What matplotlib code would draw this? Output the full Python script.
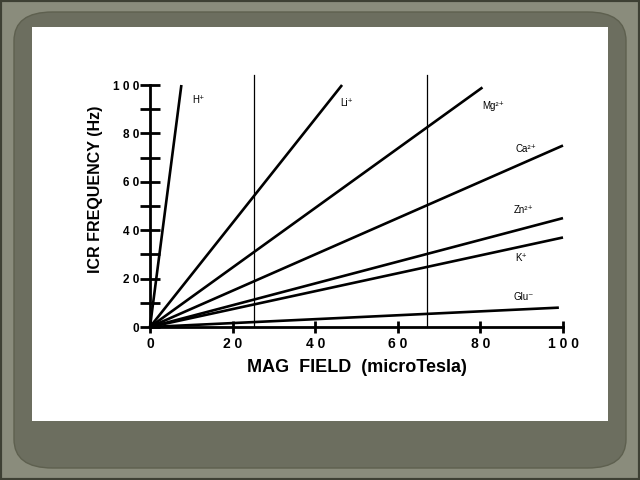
import matplotlib.pyplot as plt
from matplotlib.patches import FancyBboxPatch, Rectangle

# ion lines, all from the origin to the end point
ions = ['H⁺', 'Li⁺', 'Mg²⁺', 'Ca²⁺', 'Zn²⁺', 'K⁺', 'Glu⁻']
end_x = [7.6, 46.5, 80.5, 100, 100, 100, 99]
end_y = [100, 100, 99, 75, 45, 37, 8]
label_x = [10.2, 46, 80.5, 88.5, 88, 88.5, 88]
label_y = [94, 92.5, 91.5, 73.5, 48.5, 28.5, 12.5]

# the two vertical marker lines
vlines_x = [25.3, 67]

x_ticks = [0, 20, 40, 60, 80, 100]
x_ticklabels = ['0', '2 0', '4 0', '6 0', '8 0', '1 0 0']
y_ticks = [0, 10, 20, 30, 40, 50, 60, 70, 80, 90, 100]
y_ticklabels = ['0', '', '2 0', '', '4 0', '', '6 0', '', '8 0', '', '1 0 0']

plt.rcParams['font.family'] = ['Liberation Sans', 'DejaVu Sans']

W, H = 640, 480
fig = plt.figure(figsize=(6.4, 4.8), dpi=100, facecolor='#8a8c7c')

# slide frame, kept behind the axes
fig.patches.append(Rectangle((0, 0), 1, 1, transform=fig.transFigure,
                             fill=False, edgecolor='#3e4034', linewidth=3, zorder=-10))
fig.patches.append(FancyBboxPatch((14 / W, 12 / H), 612 / W, 456 / H,
                                  boxstyle='round,pad=0,rounding_size=0.06',
                                  transform=fig.transFigure,
                                  facecolor='#6c6e5f', edgecolor='#5e604f', linewidth=1, zorder=-10))
fig.patches.append(Rectangle((32 / W, 1 - 421 / H), 576 / W, 394 / H,
                             transform=fig.transFigure, facecolor='white', edgecolor='none', zorder=-9))

ax = fig.add_axes([150 / W, 1 - 327 / H, 413 / W, 242 / H])
ax.set_facecolor('none')

for ex, ey in zip(end_x, end_y):
    ax.plot([0, ex], [0, ey], color='black', linewidth=1.9, solid_capstyle='butt', clip_on=False)

for vx in vlines_x:
    ax.plot([vx, vx], [0, 104], color='black', linewidth=0.9, clip_on=False)

for name, lx, ly in zip(ions, label_x, label_y):
    ax.text(lx, ly, name, fontsize=7, va='center', ha='left')

ax.set_xlim(0, 100)
ax.set_ylim(0, 100)
for side in ['top', 'right']:
    ax.spines[side].set_visible(False)
for side in ['left', 'bottom']:
    ax.spines[side].set_linewidth(2)

ax.set_xticks(x_ticks)
ax.set_xticklabels(x_ticklabels, fontsize=10, fontweight='bold')
ax.set_yticks(y_ticks)
ax.set_yticklabels(y_ticklabels, fontsize=8.5, fontweight='bold')
ax.tick_params(axis='x', direction='inout', length=8, width=2, pad=3)
ax.tick_params(axis='y', direction='inout', length=14, width=2, pad=1)

ax.set_xlabel('MAG  FIELD  (microTesla)', fontsize=13, fontweight='bold', labelpad=6)
ax.set_ylabel('ICR FREQUENCY (Hz)', fontsize=11.5, fontweight='bold')
ax.yaxis.set_label_coords(-0.115, 0.57)

fig.savefig('out.png', dpi=100, facecolor=fig.get_facecolor())
